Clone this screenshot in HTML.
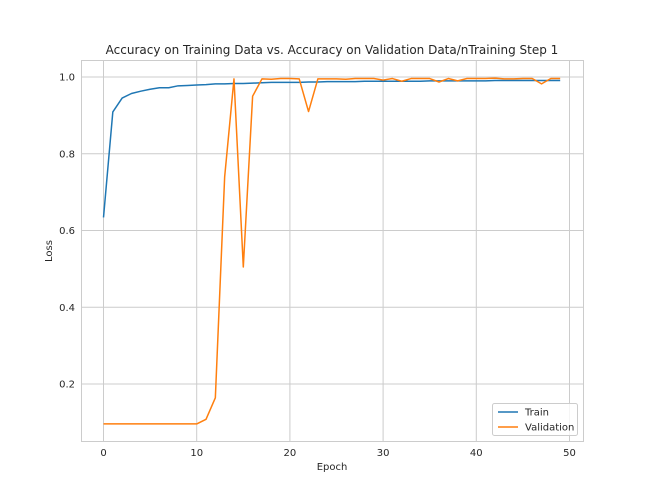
<!DOCTYPE html>
<html><head><meta charset="utf-8"><style>body{margin:0;background:#fff}svg{display:block;font-family:"DejaVu Sans","Liberation Sans",sans-serif}</style></head>
<body>
<svg id="c" width="648" height="504">
<text x="332" y="54" font-size="12" text-anchor="middle" fill="#262626">Accuracy on Training Data vs. Accuracy on Validation Data/nTraining Step 1</text>
<text x="332" y="470" font-size="10" text-anchor="middle" fill="#262626">Epoch</text>
<text x="52" y="251" font-size="10" text-anchor="middle" fill="#262626" transform="rotate(-90 52 251)">Loss</text>
<g id="grid"></g><g id="lines"></g>
<rect x="81.5" y="60.5" width="502" height="381" fill="none" stroke="#ccc"/>
<g>
<rect x="492.5" y="403.5" width="85" height="32" rx="2" fill="#fff" fill-opacity="0.8" stroke="#ccc"/>
<line x1="498" y1="412" x2="518" y2="412" stroke="#1f77b4" stroke-width="1.5"/>
<text x="525" y="415.5" font-size="10" fill="#262626">Train</text>
<line x1="498" y1="427" x2="518" y2="427" stroke="#ff7f0e" stroke-width="1.5"/>
<text x="525" y="430.5" font-size="10" fill="#262626">Validation</text>
</g>
</svg>
<script>
const epochs=[...Array(50).keys()];
const train=[0.634,0.909,0.945,0.957,0.963,0.968,0.972,0.972,0.977,0.978,0.979,0.980,0.982,0.982,0.983,0.983,0.984,0.985,0.986,0.986,0.986,0.986,0.987,0.987,0.988,0.988,0.988,0.988,0.989,0.989,0.989,0.989,0.989,0.989,0.989,0.990,0.990,0.990,0.990,0.990,0.990,0.990,0.991,0.991,0.991,0.991,0.991,0.991,0.991,0.991];
const validation=[0.096,0.096,0.096,0.096,0.096,0.096,0.096,0.096,0.096,0.096,0.096,0.108,0.164,0.74,0.995,0.505,0.95,0.995,0.994,0.996,0.996,0.995,0.91,0.995,0.995,0.995,0.994,0.996,0.996,0.996,0.992,0.996,0.989,0.996,0.996,0.996,0.987,0.996,0.99,0.996,0.996,0.996,0.997,0.995,0.995,0.996,0.996,0.982,0.996,0.996];
const xTicks=[0,10,20,30,40,50];
const yTicks=[0.2,0.4,0.6,0.8,1.0];
const X=v=>103.5+v*9.32, Y=v=>77-(v-1)*383.75;
const NS="http://www.w3.org/2000/svg";
const g=document.getElementById('grid'), L=document.getElementById('lines');
function mk(t,a,p){const e=document.createElementNS(NS,t);for(const k in a)e.setAttribute(k,a[k]);p.appendChild(e);return e;}
xTicks.forEach(t=>{const l=mk('line',{x1:X(t),x2:X(t),y1:60.5,y2:441.5,stroke:'#ccc'},g);


const s=mk('text',{x:X(t),y:456,'font-size':10,'text-anchor':'middle',fill:'#262626'},g);s.textContent=t;

});
yTicks.forEach(t=>{const l=mk('line',{x1:81.5,x2:583.5,y1:Y(t),y2:Y(t),stroke:'#ccc'},g);


const s=mk('text',{x:75,y:Y(t)+3.5,'font-size':10,'text-anchor':'end',fill:'#262626'},g);s.textContent=t.toFixed(1);

});
[[train,'#1f77b4','train-line'],[validation,'#ff7f0e','validation-line']].forEach(([d,c,n])=>{
const p=mk('polyline',{points:d.map((v,i)=>X(epochs[i])+','+Y(v)).join(' '),fill:'none',stroke:c,'stroke-width':1.5,'stroke-linejoin':'round'},L);

});
</script>
</body></html>
